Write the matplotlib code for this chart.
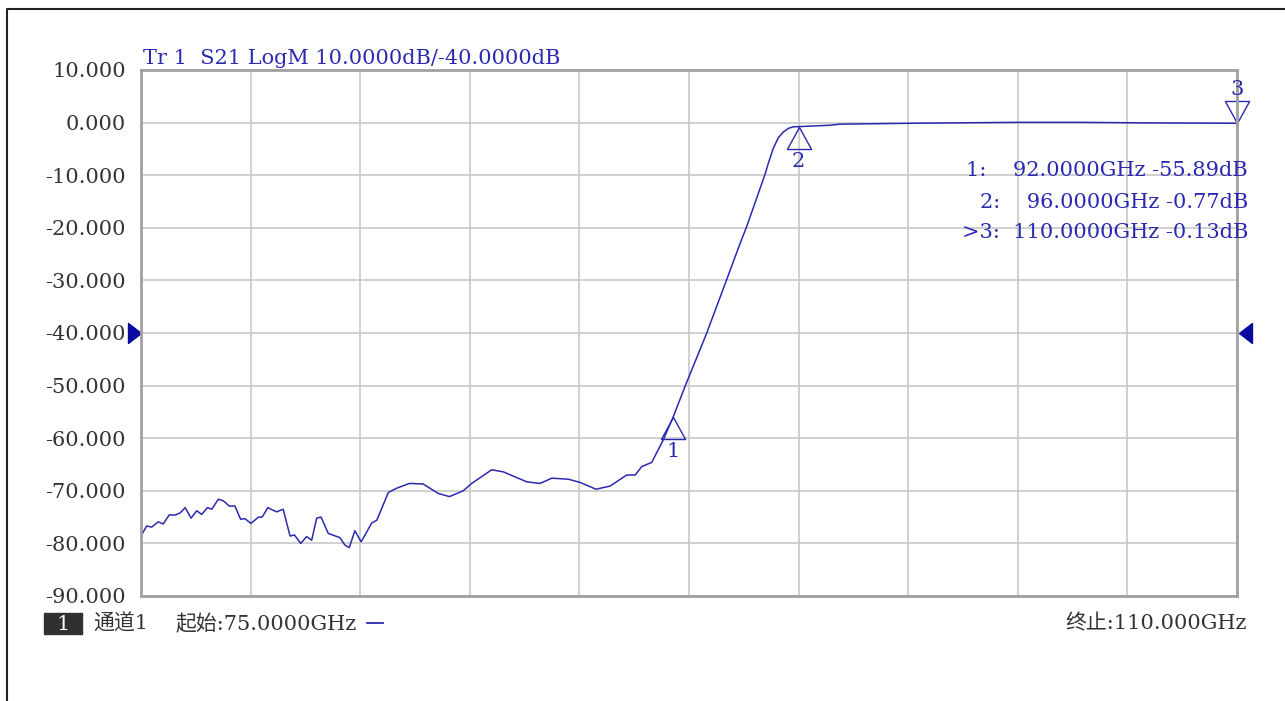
import matplotlib.pyplot as plt
from matplotlib.lines import Line2D
from matplotlib.patches import Rectangle

plt.rcParams['font.family'] = ['DejaVu Serif', 'Noto Sans CJK SC', 'DejaVu Sans']

# trace (GHz, dB)
freq = [75.02, 75.18, 75.34, 75.55, 75.71, 75.90, 76.09, 76.25, 76.41, 76.60,
        76.78, 76.94, 77.12, 77.26, 77.47, 77.63, 77.82, 78.00, 78.18, 78.32,
        78.51, 78.75, 78.87, 79.05, 79.33, 79.54, 79.76, 79.90, 80.10, 80.29,
        80.45, 80.61, 80.75, 80.98, 81.35, 81.51, 81.65, 81.83, 82.03, 82.37,
        82.53, 82.90, 83.17, 83.57, 84.01, 84.49, 84.85, 85.29, 85.56, 86.20,
        86.57, 87.32, 87.74, 88.12, 88.65, 89.02, 89.53, 89.98, 90.51, 90.78,
        90.99, 91.31, 91.68, 92.00, 92.37, 93.06, 93.70, 94.13, 94.34, 94.93,
        95.03, 95.19, 95.35, 95.51, 95.67, 95.83, 96.00, 97.00, 97.32, 100.0,
        103.0, 105.0, 107.0, 110.0]
s21 = [-78.4, -76.7, -76.9, -75.9, -76.3, -74.6, -74.6, -74.2, -73.2, -75.2,
       -73.8, -74.5, -73.2, -73.5, -71.6, -71.9, -72.9, -72.9, -75.4, -75.3,
       -76.2, -75.0, -75.0, -73.2, -74.0, -73.5, -78.6, -78.4, -80.0, -78.7,
       -79.4, -75.2, -75.0, -78.1, -78.9, -80.3, -80.8, -77.6, -79.7, -76.1,
       -75.6, -70.3, -69.5, -68.6, -68.7, -70.5, -71.1, -70.0, -68.6, -66.0,
       -66.4, -68.3, -68.6, -67.6, -67.8, -68.4, -69.7, -69.1, -67.0, -67.0,
       -65.4, -64.6, -60.3, -55.89, -50.2, -40.1, -29.9, -23.0, -19.8, -9.8,
       -7.8, -4.9, -2.9, -1.8, -1.1, -0.8, -0.77, -0.5, -0.3, -0.1,
       0.05, 0.05, -0.05, -0.13]

mk_freq = [92.0, 96.0, 110.0]
mk_val = [-55.89, -0.77, -0.13]
mk_lines = ["1:    92.0000GHz -55.89dB",
            "2:    96.0000GHz -0.77dB",
            ">3:  110.0000GHz -0.13dB"]

yticks = [10, 0, -10, -20, -30, -40, -50, -60, -70, -80, -90]
ref_level = -40

blue = '#2a2ab0'
txt = '#333333'
fs = 15
W, H = 1285, 701

tri_up = [(0, 0), (-0.55, -1), (0.55, -1), (0, 0)]
tri_down = [(0, 0), (-0.55, 1), (0.55, 1), (0, 0)]
arrow_r = [(0, 0), (-1, 0.77), (-1, -0.77), (0, 0)]
arrow_l = [(0, 0), (1, 0.77), (1, -0.77), (0, 0)]

fig = plt.figure(figsize=(W / 100, H / 100), dpi=100)
ax = fig.add_axes([141 / W, 1 - 596 / H, (1237 - 141) / W, (596 - 70) / H])

ax.plot(freq, s21, color=blue, lw=1.1)
ax.set_xlim(75, 110)
ax.set_ylim(-90, 10)
ax.set_xticks([75 + 3.5 * i for i in range(11)])
ax.set_xticklabels([])
ax.set_yticks(yticks)
ax.set_yticklabels(['%.3f' % v for v in yticks], fontsize=fs, color=txt)
ax.tick_params(length=0, pad=11)
ax.grid(True, color='#c8c8c8', lw=1.2)
for sp in ax.spines.values():
    sp.set_color('#a0a0a0')
    sp.set_linewidth(2)

# markers, apex sitting on the trace
for i, (f, v) in enumerate(zip(mk_freq, mk_val)):
    if i < 2:
        ax.plot(f, v, marker=tri_up, ms=31.7, mfc='none', mec=blue, mew=1,
                clip_on=False, ls='none')
        ax.annotate(str(i + 1), (f, v), xytext=(0, -25), textcoords='offset points',
                    ha='center', va='center', color=blue, fontsize=fs)
    else:
        ax.plot(f, v, marker=tri_down, ms=31.7, mfc='none', mec=blue, mew=1,
                clip_on=False, ls='none')
        ax.annotate(str(i + 1), (f, v), xytext=(0, 24.5), textcoords='offset points',
                    ha='center', va='center', color=blue, fontsize=fs)

# reference level arrows
ax.plot(0, ref_level, marker=arrow_r, ms=18.7, color='#0a0aa0', ls='none',
        transform=ax.get_yaxis_transform(), clip_on=False)
ax.plot(1.002, ref_level, marker=arrow_l, ms=18.7, color='#0a0aa0', ls='none',
        transform=ax.get_yaxis_transform(), clip_on=False)

for k, line in enumerate(mk_lines):
    fig.text(1248 / W, 1 - (171 + 31 * k) / H, line, ha='right', va='center',
             color=blue, fontsize=fs)

fig.text(143 / W, 1 - 58 / H, "Tr 1  S21 LogM 10.0000dB/-40.0000dB",
         color=blue, fontsize=fs, va='center')

# bottom status line
fig.patches.append(Rectangle((44 / W, 1 - 634 / H), 38 / W, 21 / H,
                             transform=fig.transFigure, color='#303030'))
fig.text(63 / W, 1 - 624 / H, "1", color='white', fontsize=fs, ha='center', va='center')
fig.text(93 / W, 1 - 624 / H, "通道1", color=txt, fontsize=fs, va='center')
fig.text(175 / W, 1 - 624 / H, "起始:75.0000GHz", color=txt, fontsize=fs, va='center')
fig.lines.append(Line2D([367 / W, 383 / W], [1 - 623 / H, 1 - 623 / H],
                        transform=fig.transFigure, color=blue, lw=1.3))
fig.text(1247 / W, 1 - 624 / H, "终止:110.000GHz", color=txt, fontsize=fs,
         ha='right', va='center')

# outer frame
fig.lines.append(Line2D([7 / W, 7 / W, 1.0], [0, 1 - 9 / H, 1 - 9 / H],
                        transform=fig.transFigure, color='#222222', lw=1.5))

fig.savefig('out.png', dpi=100)
